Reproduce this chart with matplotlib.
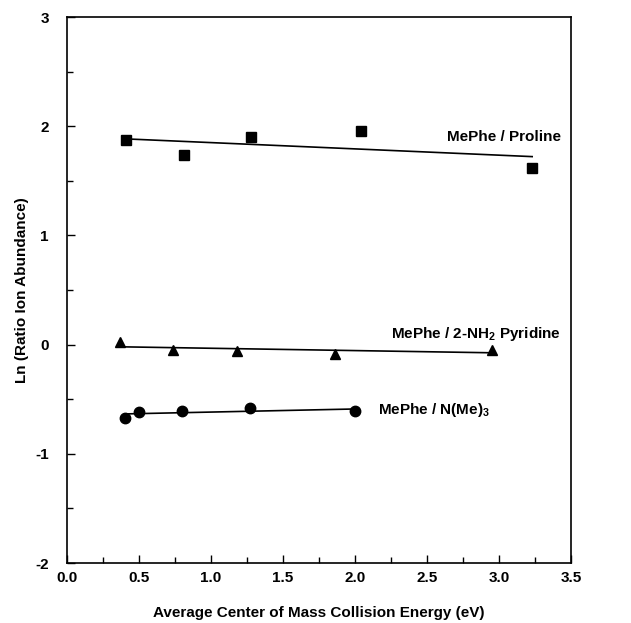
import numpy as np
import matplotlib
matplotlib.use("Agg")
import matplotlib.pyplot as plt
from matplotlib.ticker import MultipleLocator, FormatStrFormatter

plt.rcParams["font.family"] = ["Liberation Sans", "DejaVu Sans"]
plt.rcParams["mathtext.fontset"] = "custom"
plt.rcParams["mathtext.rm"] = "Liberation Sans:bold"
plt.rcParams["mathtext.bf"] = "Liberation Sans:bold"
plt.rcParams["axes.unicode_minus"] = False

# MePhe / Proline
proline_x = [0.41, 0.81, 1.28, 2.04, 3.23]
proline_y = [1.87, 1.74, 1.90, 1.96, 1.62]
# MePhe / 2-NH2 Pyridine
pyridine_x = [0.37, 0.74, 1.18, 1.86, 2.95]
pyridine_y = [0.025, -0.046, -0.06, -0.085, -0.046]
# MePhe / N(Me)3
nme3_x = [0.40, 0.50, 0.80, 1.27, 2.00]
nme3_y = [-0.67, -0.62, -0.61, -0.58, -0.61]

series = [
    (proline_x, proline_y, "s", 7.5),
    (pyridine_x, pyridine_y, "^", 7.5),
    (nme3_x, nme3_y, "o", 7.5),
]

fig = plt.figure(figsize=(6.31, 6.23), dpi=100)
ax = fig.add_axes([0.106, 0.0963, 0.799, 0.8764])

for xs, ys, m, ms in series:
    xs = np.array(xs)
    ys = np.array(ys)
    k, b = np.polyfit(xs, ys, 1)
    xx = np.array([xs.min(), xs.max()])
    ax.plot(xx, k * xx + b, color="black", linewidth=1.2)
    ax.plot(xs, ys, linestyle="none", marker=m, markersize=ms, color="black")

ax.text(3.43, 1.90, "MePhe / Proline", ha="right", va="center", fontsize=11, fontweight="bold")
ax.text(3.43, 0.10, "MePhe / 2-NH$_2$ Pyridine", ha="right", va="center", fontsize=11, fontweight="bold")
ax.text(2.16, -0.60, "MePhe / N(Me)$_3$", ha="left", va="center", fontsize=11, fontweight="bold")

ax.set_xlim(0, 3.5)
ax.set_ylim(-2, 3)
ax.xaxis.set_major_locator(MultipleLocator(0.5))
ax.xaxis.set_minor_locator(MultipleLocator(0.25))
ax.yaxis.set_major_locator(MultipleLocator(1))
ax.yaxis.set_minor_locator(MultipleLocator(0.5))
ax.xaxis.set_major_formatter(FormatStrFormatter("%.1f"))
ax.tick_params(which="both", direction="in", top=False, right=False, labelsize=11)
ax.tick_params(which="major", length=6, width=1)
ax.tick_params(which="minor", length=4, width=1)
ax.tick_params(axis="y", which="major", pad=13)
ax.tick_params(axis="x", which="major", pad=6)
for lab in ax.get_xticklabels() + ax.get_yticklabels():
    lab.set_fontweight("bold")
for s in ax.spines.values():
    s.set_linewidth(1.2)

ax.set_xlabel("Average Center of Mass Collision Energy (eV)", fontsize=11, fontweight="bold", va="center")
ax.set_ylabel("Ln (Ratio Ion Abundance)", fontsize=11, fontweight="bold", va="center")
ax.xaxis.set_label_coords(0.5, -0.0916)
ax.yaxis.set_label_coords(-0.089, 0.5)

fig.savefig("out.png", dpi=100)
